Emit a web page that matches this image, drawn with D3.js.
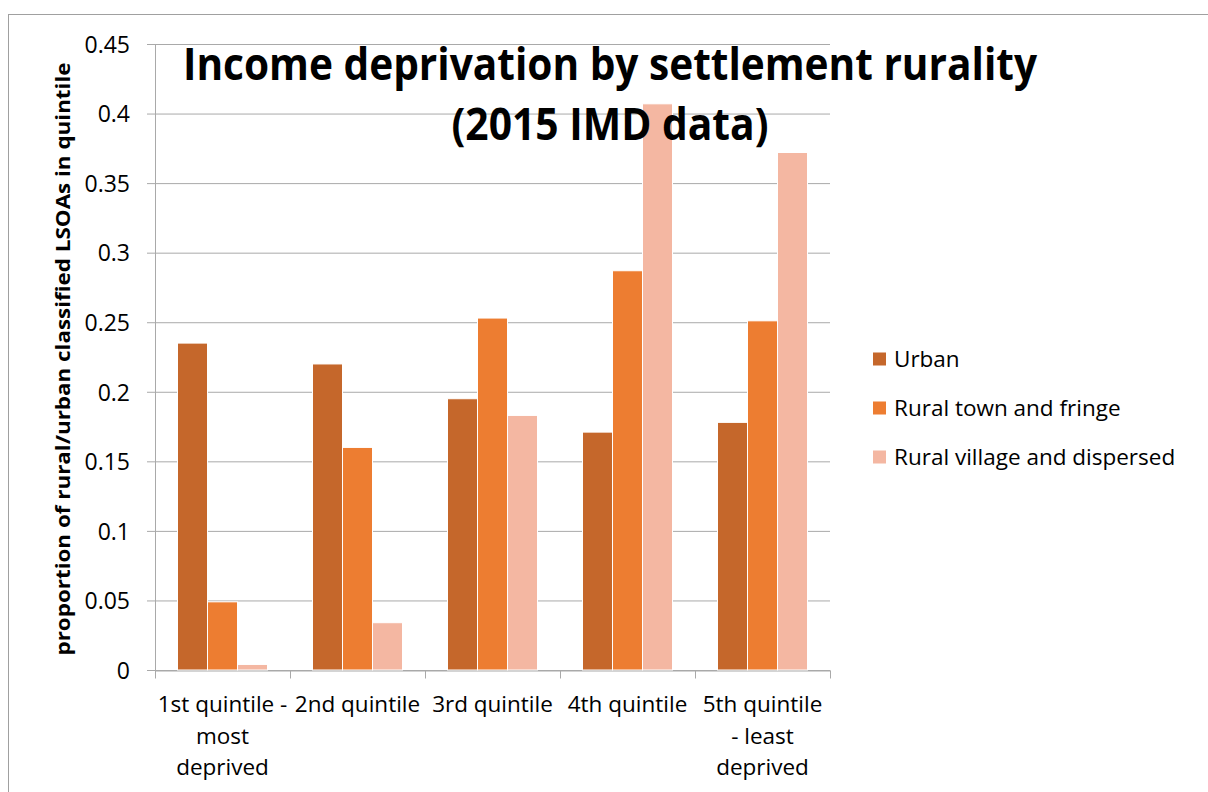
<!DOCTYPE html>
<html>
<head>
<meta charset="utf-8">
<script src="https://cdn.jsdelivr.net/npm/d3@7"></script>
<style>
  body { margin: 0; background: #fff; }
  svg { display: block; font-family: "Open Sans", sans-serif; }
</style>
</head>
<body>
<div id="chart"></div>
<script>
// data
const categories = ["q1", "q2", "q3", "q4", "q5"];
const categoryLabels = [
    ["1st quintile -", "most", "deprived"],
    ["2nd quintile"],
    ["3rd quintile"],
    ["4th quintile"],
    ["5th quintile", "- least", "deprived"]
];
const seriesNames = ["Urban", "Rural town and fringe", "Rural village and dispersed"];
const urban = [0.235, 0.220, 0.195, 0.171, 0.178];
const ruralTown = [0.049, 0.160, 0.253, 0.287, 0.251];
const ruralVillage = [0.004, 0.034, 0.183, 0.407, 0.372];
const yTicks = [0, 0.05, 0.1, 0.15, 0.2, 0.25, 0.3, 0.35, 0.4, 0.45];
const titleLines = ["Income deprivation by settlement rurality", "(2015 IMD data)"];
const yLabel = "proportion of rural/urban classified LSOAs in quintile";

const colors = ["#c5672b", "#ed7d31", "#f4b7a2"];
const gridColor = "#a9a9a9";

const width = 1208, height = 792;
const plot = { left: 155, right: 830, top: 44, bottom: 670 };

const svg = d3.select("#chart").append("svg")
    .attr("width", width)
    .attr("height", height);

// outer chart border
svg.append("rect")
    .attr("x", 8.5).attr("y", 14.5)
    .attr("width", width).attr("height", height)
    .attr("fill", "none")
    .attr("stroke", "#a0a0a0");

const x0 = d3.scaleBand()
    .domain(categories)
    .range([plot.left, plot.right]);
const x1 = d3.scaleBand()
    .domain(seriesNames)
    .range([0, x0.bandwidth()])
    .paddingOuter(0.75);
const y = d3.scaleLinear()
    .domain([0, 0.45])
    .range([plot.bottom, plot.top]);

// gridlines + y ticks
const yAxis = d3.axisLeft(y)
    .tickValues(yTicks)
    .tickSize(-(plot.right - plot.left + 8))
    .tickPadding(0)
    .tickFormat(d => d3.format("")(+d.toFixed(2)));
const gy = svg.append("g")
    .attr("transform", "translate(" + (plot.left - 8) + ",0)")
    .call(yAxis);
gy.select(".domain").remove();
gy.selectAll(".tick line")
    .attr("x1", 0).attr("x2", plot.right - plot.left + 8)
    .attr("stroke", gridColor);
gy.selectAll(".tick text")
    .attr("x", -17)
    .attr("dy", "0.36em")
    .attr("fill", "#000")
    .style("font-size", "23px")
    .style("font-family", "Open Sans, sans-serif");

// y axis line
svg.append("line")
    .attr("x1", plot.left + 0.5).attr("x2", plot.left + 0.5)
    .attr("y1", plot.top).attr("y2", plot.bottom)
    .attr("stroke", gridColor);

// x axis
const xAxis = d3.axisBottom(x0)
    .tickValues([])
    .tickSizeOuter(0);
const gx = svg.append("g")
    .attr("transform", "translate(0," + (plot.bottom + 0.5) + ")")
    .call(xAxis);
gx.select(".domain").attr("stroke", gridColor);
gx.selectAll(".cat-tick")
    .data(d3.range(categories.length + 1)).enter()
    .append("line")
    .attr("class", "cat-tick")
    .attr("x1", i => plot.left + i * x0.step() + 0.5)
    .attr("x2", i => plot.left + i * x0.step() + 0.5)
    .attr("y1", 0).attr("y2", 8)
    .attr("stroke", gridColor);

const labels = svg.append("g").selectAll("text")
    .data(categories).enter()
    .append("text")
    .attr("text-anchor", "middle")
    .attr("x", d => x0(d) + x0.bandwidth() / 2)
    .attr("y", plot.bottom + 42)
    .style("font-size", "22.5px")
    .attr("fill", "#000");
labels.selectAll("tspan")
    .data((d, i) => categoryLabels[i]).enter()
    .append("tspan")
    .attr("x", function () { return d3.select(this.parentNode).attr("x"); })
    .attr("dy", (d, i) => i === 0 ? 0 : 31.5)
    .text(d => d);

// bars
const seriesValues = [urban, ruralTown, ruralVillage];
const barData = [];
categories.forEach((c, i) => {
    seriesNames.forEach((s, j) => {
        barData.push({ cat: c, series: s, value: seriesValues[j][i], color: colors[j] });
    });
});
svg.append("g").selectAll("rect")
    .data(barData).enter()
    .append("rect")
    .attr("x", d => x0(d.cat) + x1(d.series))
    .attr("y", d => y(d.value))
    .attr("width", x1.bandwidth())
    .attr("height", d => y(0) - y(d.value))
    .attr("fill", d => d.color)
    .attr("stroke", "#fff")
    .attr("stroke-width", 1);

// y axis title
svg.append("text")
    .attr("transform", "translate(70," + ((plot.top + plot.bottom) / 2 + 2) + ") rotate(-90)")
    .attr("text-anchor", "middle")
    .attr("textLength", 593)
    .attr("lengthAdjust", "spacingAndGlyphs")
    .style("font-size", "20px")
    .style("font-weight", "bold")
    .text(yLabel);

// chart title
const titleWidths = [854, 317];
svg.append("g").selectAll("text")
    .data(titleLines).enter()
    .append("text")
    .attr("x", 610)
    .attr("y", (d, i) => 80 + i * 60)
    .attr("text-anchor", "middle")
    .attr("textLength", (d, i) => titleWidths[i])
    .attr("lengthAdjust", "spacingAndGlyphs")
    .style("font-size", "44px")
    .style("font-weight", "bold")
    .text(d => d);

// legend
const legend = svg.append("g").selectAll("g")
    .data(seriesNames).enter()
    .append("g")
    .attr("transform", (d, i) => "translate(873," + (359 + i * 49) + ")");
legend.append("rect")
    .attr("x", 0).attr("y", -6.5)
    .attr("width", 13).attr("height", 13)
    .attr("fill", (d, i) => colors[i]);
legend.append("text")
    .attr("x", 21)
    .attr("y", 8)
    .style("font-size", "22.5px")
    .text(d => d);
</script>
</body>
</html>
